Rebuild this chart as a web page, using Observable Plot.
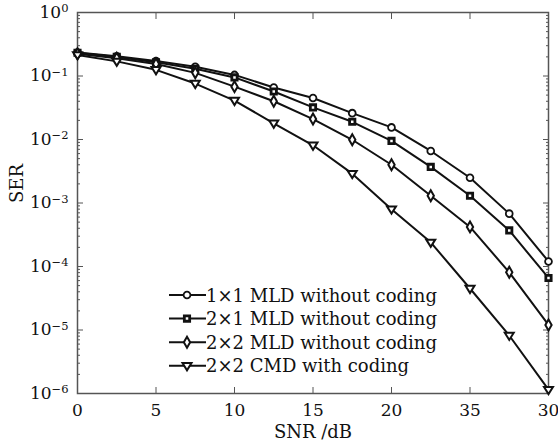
<!DOCTYPE html>
<html><head><meta charset="utf-8">
<script src="https://cdn.jsdelivr.net/npm/d3@7"></script>
<script src="https://cdn.jsdelivr.net/npm/@observablehq/plot@0.6"></script>
<style>
body{margin:0;background:#fff;}
#wrap{position:relative;width:558px;height:447px;}
#legend{position:absolute;left:160px;top:280px;}
</style></head><body><div id="wrap"></div>
<script>
// ---- data ----
const snr = [0, 2.5, 5, 7.5, 10, 12.5, 15, 17.5, 20, 22.5, 25, 27.5, 30];
const ser1x1MLD = [0.234, 0.205, 0.172, 0.140, 0.104, 0.066, 0.045, 0.026, 0.0155, 0.0066, 0.0025, 0.00068, 0.00012];
const ser2x1MLD = [0.232, 0.200, 0.165, 0.130, 0.095, 0.057, 0.032, 0.019, 0.0095, 0.0037, 0.0013, 0.00037, 0.000066];
const ser2x2MLD = [0.225, 0.190, 0.155, 0.112, 0.068, 0.040, 0.021, 0.0099, 0.0040, 0.0013, 0.00042, 0.000081, 0.000012];
const ser2x2CMD = [0.215, 0.170, 0.125, 0.076, 0.041, 0.018, 0.0081, 0.0029, 0.0008, 0.00024, 0.000045, 0.0000082, 0.00000115];
const seriesNames = ["1×1 MLD without coding", "2×1 MLD without coding", "2×2 MLD without coding", "2×2 CMD with coding"];
const xTicks = [0, 5, 10, 15, 20, 25, 30];
const xTickLabels = ["0", "5", "10", "15", "20", "35", "30"];
const yTicks = [1, 1e-1, 1e-2, 1e-3, 1e-4, 1e-5, 1e-6];
const yTickExponents = ["0", "−1", "−2", "−3", "−4", "−5", "−6"];
const xLabel = "SNR /dB";
const yLabel = "SER";

// ---- build ----
const allSeries = [ser1x1MLD, ser2x1MLD, ser2x2MLD, ser2x2CMD];
const table = [];
allSeries.forEach((vals, i) => vals.forEach((v, j) => table.push({series: seriesNames[i], snr: snr[j], ser: v})));
const minorTicks = [];
for (let e = -6; e < 0; e++) for (let k = 2; k <= 9; k++) minorTicks.push(k * Math.pow(10, e));

const triDown = {draw(ctx, size) {
  const r = Math.sqrt(size / Math.PI);
  ctx.moveTo(-1.15 * r, -0.7 * r);
  ctx.lineTo(1.15 * r, -0.7 * r);
  ctx.lineTo(0, 1.15 * r);
  ctx.closePath();
}};
const symbols = ["circle", "square", "diamond", triDown];
const symStyle = [
  {r: 3.4, strokeWidth: 1.8},
  {r: 3.0, strokeWidth: 2.8},
  {r: 3.3, strokeWidth: 2},
  {r: 3.9, strokeWidth: 2}
];

const font = "DejaVu Serif";
const marks = [
  Plot.frame({stroke: "#555", strokeWidth: 1.5}),
  Plot.axisX({ticks: xTicks.slice(1, -1), tickSize: -6, tickFormat: () => "", stroke: "#555"}),
  Plot.axisX({anchor: "top", ticks: xTicks.slice(1, -1), tickSize: -6, tickFormat: () => "", stroke: "#555"}),
  Plot.axisX({ticks: xTicks, tickSize: 0, tickPadding: 10, tickFormat: d => xTickLabels[xTicks.indexOf(d)], fontSize: 17, fill: "#111"}),
  Plot.axisY({ticks: yTicks.slice(1, -1), tickSize: -6, tickFormat: () => "", stroke: "#555"}),
  Plot.axisY({anchor: "right", ticks: yTicks.slice(1, -1), tickSize: -6, tickFormat: () => "", stroke: "#555"}),
  Plot.axisY({ticks: minorTicks, tickSize: -3, tickFormat: () => "", stroke: "#555"}),
  Plot.axisY({anchor: "right", ticks: minorTicks, tickSize: -3, tickFormat: () => "", stroke: "#555"}),
  Plot.axisY({ticks: yTicks, tickSize: 0, tickPadding: 9, tickFormat: d => "10^" + yTickExponents[yTicks.indexOf(d)], fontSize: 17, fill: "#111"}),
  Plot.line(table, {x: "snr", y: "ser", z: "series", stroke: "#111", strokeWidth: 2})
];
seriesNames.forEach((name, i) => {
  marks.push(Plot.dot(table.filter(d => d.series === name), {
    x: "snr", y: "ser", symbol: () => symbols[i], r: symStyle[i].r,
    stroke: "#111", strokeWidth: symStyle[i].strokeWidth, fill: "white"
  }));
});
marks.push(Plot.text([xLabel], {frameAnchor: "bottom", dy: 44, fontSize: 18, fill: "#111"}));
marks.push(Plot.text([yLabel], {frameAnchor: "left", dx: -60, rotate: -90, fontSize: 18, fill: "#111"}));

const chart = Plot.plot({
  width: 558, height: 447,
  marginLeft: 77, marginRight: 10, marginTop: 12, marginBottom: 54,
  style: {fontFamily: font, background: "white", color: "#111"},
  x: {domain: [0, 30], label: null},
  y: {type: "log", domain: [1e-6, 1], label: null},
  symbol: {type: "identity"},
  marks
});

// superscript exponents
chart.querySelectorAll("text").forEach(t => {
  const m = /^10\^(.+)$/.exec(t.textContent);
  if (m) {
    t.textContent = "";
    const a = document.createElementNS("http://www.w3.org/2000/svg", "tspan");
    a.textContent = "10";
    const b = document.createElementNS("http://www.w3.org/2000/svg", "tspan");
    b.textContent = m[1];
    b.setAttribute("dy", "-0.5em");
    b.setAttribute("font-size", "11.5px");
    t.appendChild(a); t.appendChild(b);
  }
});
const wrap = document.getElementById("wrap");
wrap.appendChild(chart);

// legend
const lg = d3.create("svg").attr("id", "legend").attr("width", 300).attr("height", 100);
seriesNames.forEach((name, i) => {
  const cy = 15 + i * 23.6;
  const g = lg.append("g");
  g.append("line").attr("x1", 9).attr("x2", 46).attr("y1", cy).attr("y2", cy).attr("stroke", "#111").attr("stroke-width", 2);
  const sym = typeof symbols[i] === "string" ? {circle: d3.symbolCircle, square: d3.symbolSquare, diamond: d3.symbolDiamond}[symbols[i]] : symbols[i];
  g.append("path").attr("d", d3.symbol(sym, symStyle[i].r * symStyle[i].r * Math.PI)())
    .attr("transform", `translate(27,${cy})`).attr("fill", "white").attr("stroke", "#111").attr("stroke-width", symStyle[i].strokeWidth);
  g.append("text").attr("x", 46).attr("y", cy + 6.5).attr("font-family", font).attr("font-size", 18).attr("fill", "#111").text(name);
});
wrap.appendChild(lg.node());
</script></body></html>
